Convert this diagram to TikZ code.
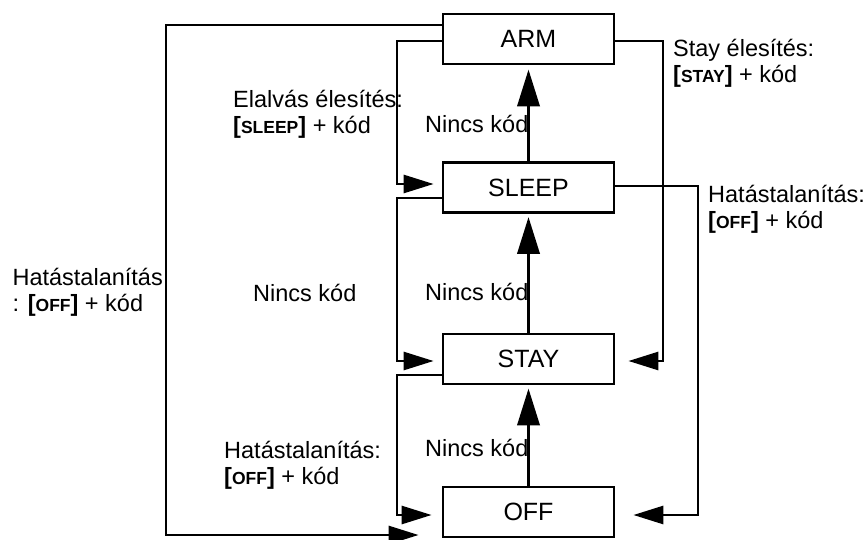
\documentclass[tikz,border=0pt]{standalone}
\usepackage{fontspec}
\setmainfont{Liberation Sans}
\usetikzlibrary{arrows.meta}
\newcommand{\keyname}[1]{\textbf{[}{\bfseries\fontsize{17.5}{20}\selectfont #1}\textbf{]}}
\begin{document}
\begin{tikzpicture}[x=1pt,y=-1pt,
  font=\fontsize{23.5}{26}\selectfont,
  statebox/.style={draw,line width=2.8pt,minimum width=171pt,minimum height=50pt,inner sep=0pt,font=\fontsize{25}{28}\selectfont},
  conn/.style={line width=2.8pt,-{Triangle[length=30pt,width=18pt]}},
  upconn/.style={line width=3.8pt,-{Triangle[length=37pt,width=22pt]}},
  lbl/.style={anchor=base west,align=left,inner sep=0pt}]
\useasboundingbox (0,0) rectangle (867,540);
\node[statebox] (arm) at (528.5,39) {ARM};
\node[statebox] (sleep) at (528.5,187.5) {SLEEP};
\node[statebox] (stay) at (528.5,359) {STAY};
\node[statebox] (off) at (528.5,512) {OFF};
% labels (multi-line: anchored at last baseline)
\node[lbl] (l1) at (233,134) {Elalvás élesítés:\\\keyname{SLEEP} + kód};
\node[lbl] (n1) at (425,133) {Nincs kód};
\node[lbl] (n2) at (425,300) {Nincs kód};
\node[lbl] (n3) at (425,456) {Nincs kód};
\node[lbl] (n4) at (253,301) {Nincs kód};
\node[lbl] (l2) at (673,83) {Stay élesítés:\\\keyname{STAY} + kód};
\node[lbl] (l3) at (708,229) {Hatástalanítás:\\\keyname{OFF} + kód};
\node[lbl,anchor=base east] (l4) at (163,311) {Hatástalanítás\\: \keyname{OFF} + kód};
\node[lbl] (l5) at (224,484) {Hatástalanítás:\\\keyname{OFF} + kód};
% vertical arrows
\draw[upconn,shorten >=4pt] (sleep.north) -- (arm.south);
\draw[upconn,shorten >=3pt] (stay.north) -- (sleep.south);
\draw[upconn,shorten >=3pt] (off.north) -- (stay.south);
% left connectors
\draw[conn,shorten >=23pt] (arm.west |- 0,25) -| (166,535) -- (off.west |- 0,535);
\draw[conn,shorten >=8pt] (arm.west |- 0,41) -| (397,184) -- (sleep.west |- 0,184);
\draw[conn,shorten >=8pt] (sleep.west |- 0,198) -| (397,361) -- (stay.west |- 0,361);
\draw[conn,shorten >=10pt] (stay.west |- 0,375) -| (397,515) -- (off.west |- 0,515);
% right connectors
\draw[conn,shorten >=13pt] (arm.east |- 0,41) -| (663,361) -- (stay.east |- 0,361);
\draw[conn,shorten >=18pt] (sleep.east |- 0,186) -| (698,515) -- (off.east |- 0,515);
\end{tikzpicture}
\end{document}
